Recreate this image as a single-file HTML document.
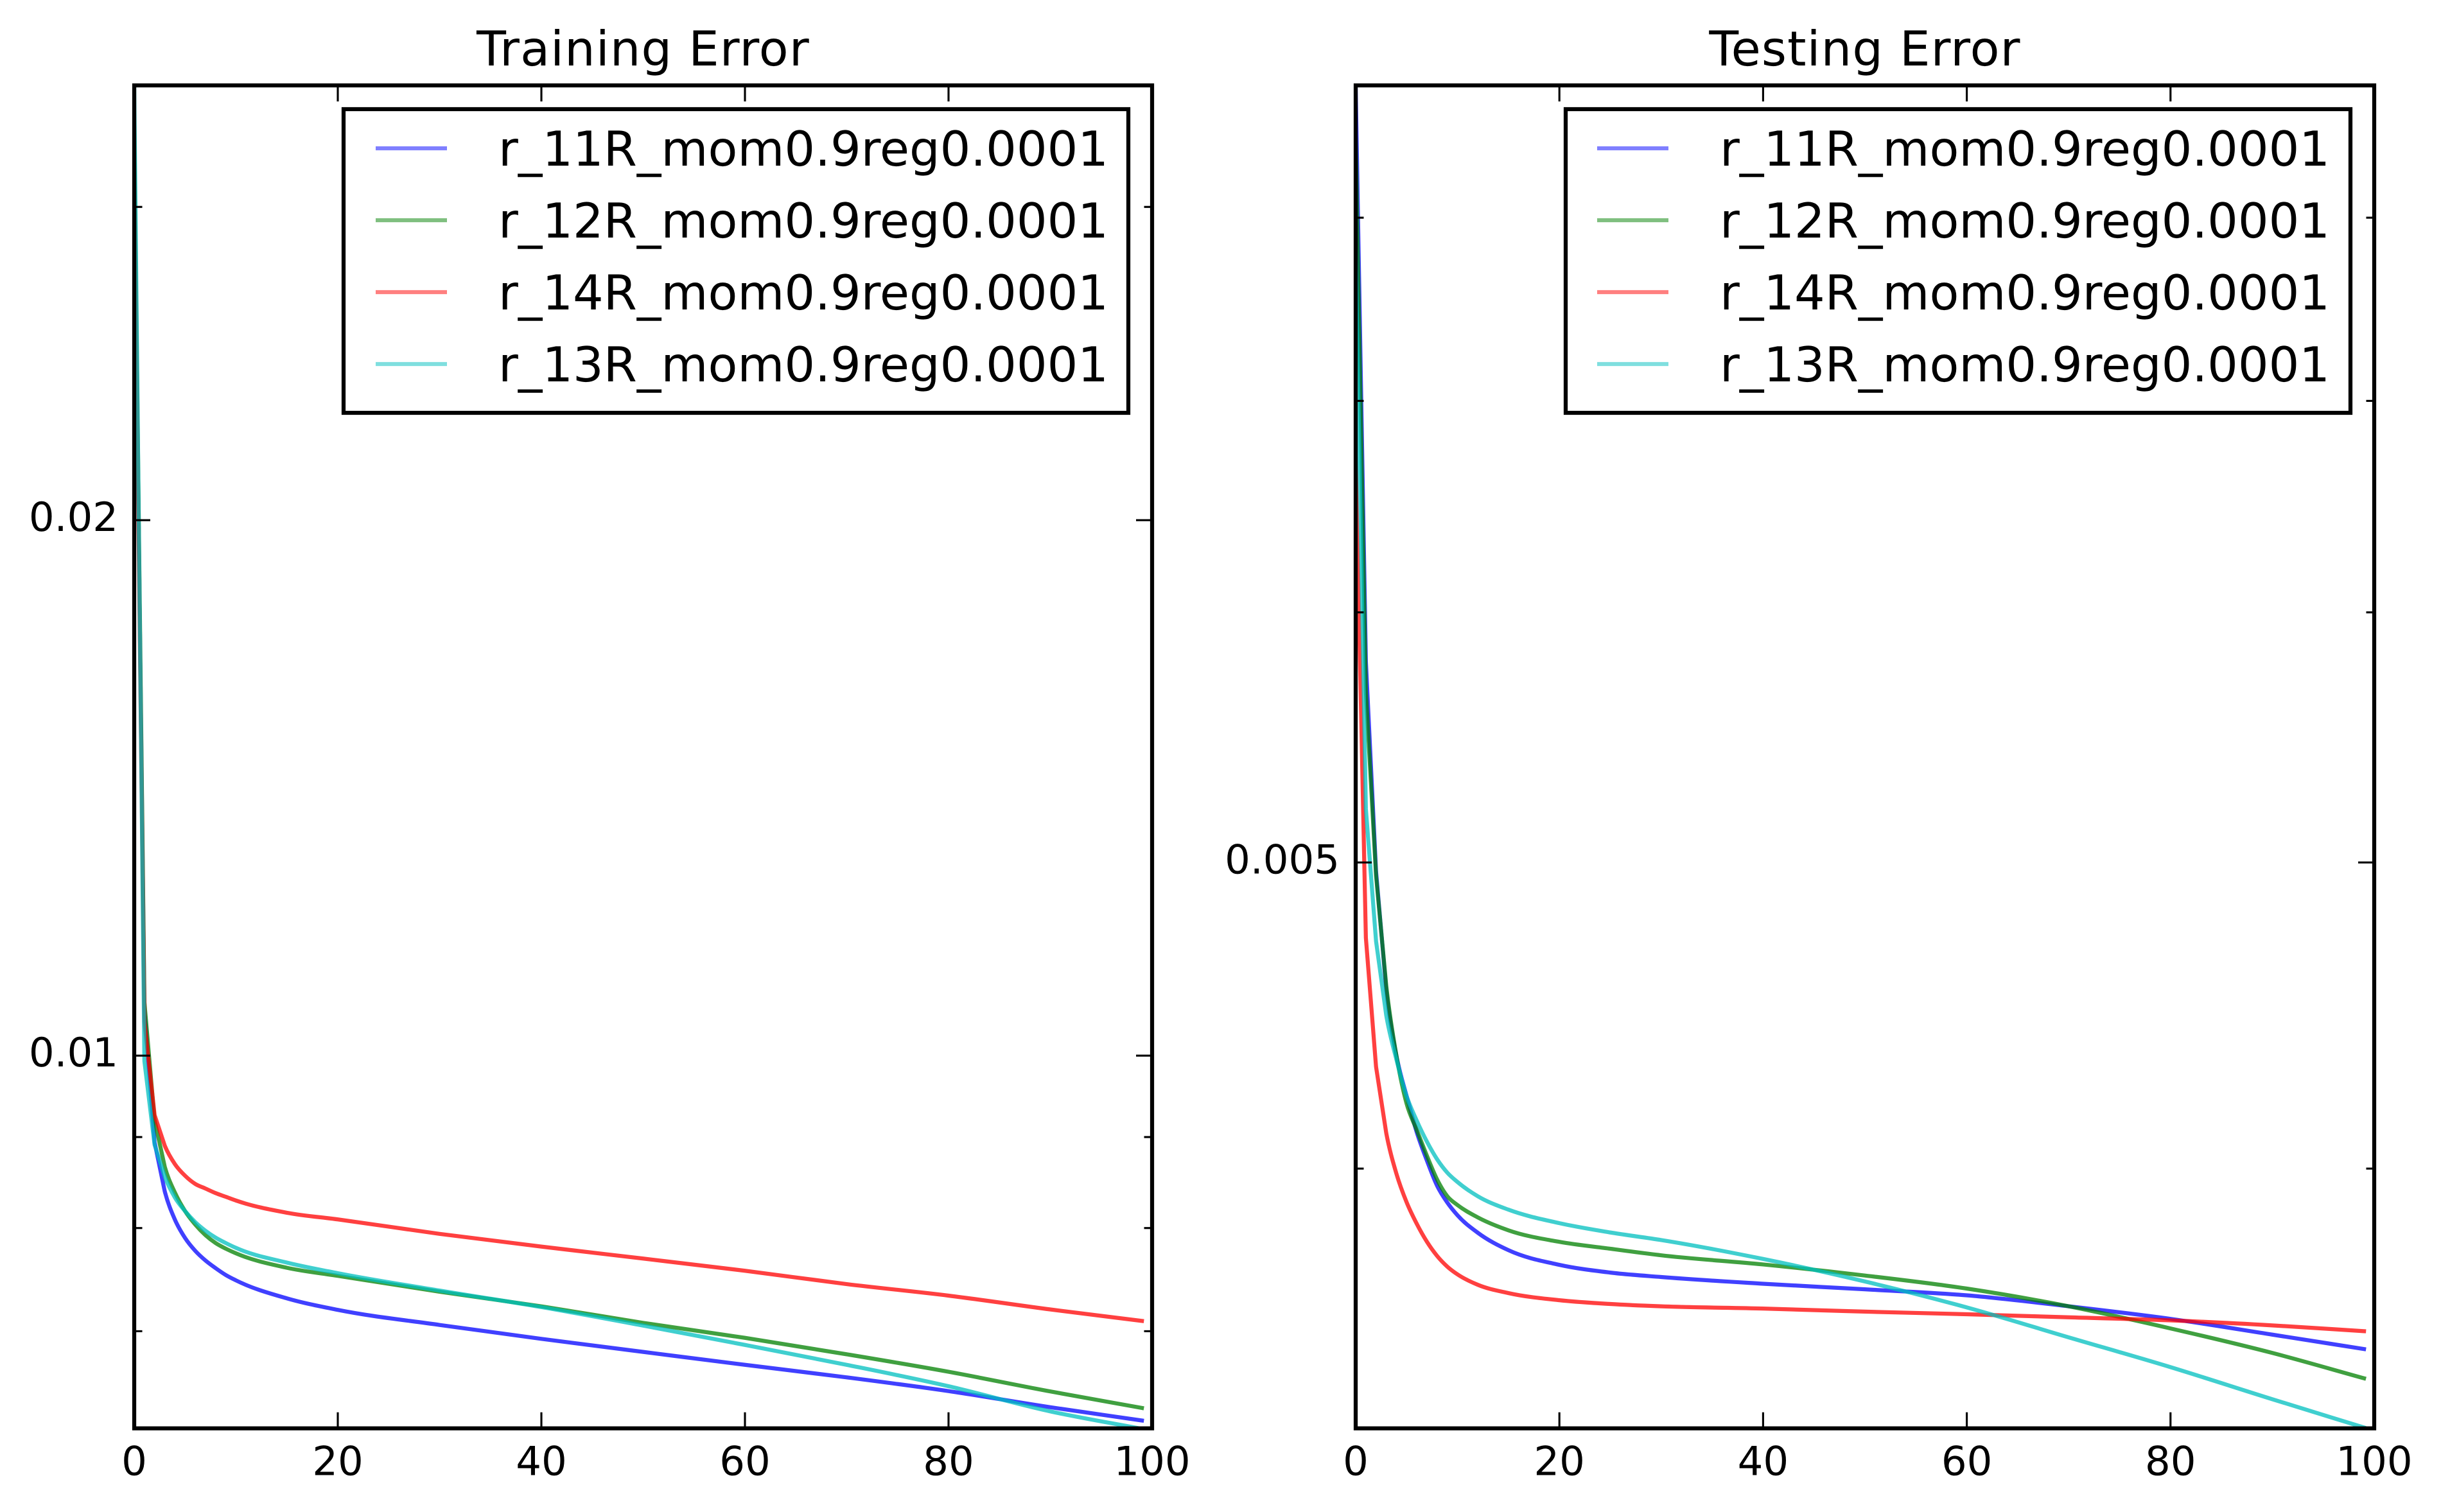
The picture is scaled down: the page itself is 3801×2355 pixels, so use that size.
<!DOCTYPE html>
<html>
<head>
<meta charset="utf-8">
<title>Training and Testing Error</title>
<style>
html,body{margin:0;padding:0;background:#fff;}
svg{display:block;}
text{font-family:"DejaVu Sans","Liberation Sans",sans-serif;fill:#000;text-rendering:geometricPrecision;}
.tick{font-size:62.5px;}
.title{font-size:75px;text-anchor:middle;letter-spacing:1.15px;}
.leg{font-size:75px;}
</style>
</head>
<body>
<svg id="figure" xmlns="http://www.w3.org/2000/svg" width="3801" height="2355" viewBox="0 0 3801 2355">
  <defs>
    <clipPath id="clip-train"><rect x="209" y="133" width="1585" height="2091.7"/></clipPath>
    <clipPath id="clip-test"><rect x="2111" y="133" width="1586" height="2091.7"/></clipPath>
  </defs>
  <rect x="0" y="0" width="3801" height="2355" fill="#fff"/>
  <g id="train-axes"></g>
  <g id="test-axes"></g>
  <text class="title" x="1001.5" y="102">Training Error</text>
  <text class="title" x="2904" y="102">Testing Error</text>

  <g>
    <rect x="535" y="170" width="1222" height="473" fill="#fff" stroke="#000" stroke-width="6.25"/>
    <g>
      <line x1="585" x2="696" y1="231" y2="231" stroke="#0000ff" stroke-opacity=".5" stroke-width="6.25"/>
      <text class="leg" x="776" y="258">r_11R_mom0.9reg0.0001</text>
    </g>
    <g>
      <line x1="585" x2="696" y1="343" y2="343" stroke="#008000" stroke-opacity=".5" stroke-width="6.25"/>
      <text class="leg" x="776" y="370">r_12R_mom0.9reg0.0001</text>
    </g>
    <g>
      <line x1="585" x2="696" y1="455" y2="455" stroke="#ff0000" stroke-opacity=".5" stroke-width="6.25"/>
      <text class="leg" x="776" y="482">r_14R_mom0.9reg0.0001</text>
    </g>
    <g>
      <line x1="585" x2="696" y1="567" y2="567" stroke="#00bfbf" stroke-opacity=".5" stroke-width="6.25"/>
      <text class="leg" x="776" y="594">r_13R_mom0.9reg0.0001</text>
    </g>
  </g>

  <g>
    <rect x="2438" y="170" width="1222" height="473" fill="#fff" stroke="#000" stroke-width="6.25"/>
    <g>
      <line x1="2487" x2="2598" y1="231" y2="231" stroke="#0000ff" stroke-opacity=".5" stroke-width="6.25"/>
      <text class="leg" x="2678" y="258">r_11R_mom0.9reg0.0001</text>
    </g>
    <g>
      <line x1="2487" x2="2598" y1="343" y2="343" stroke="#008000" stroke-opacity=".5" stroke-width="6.25"/>
      <text class="leg" x="2678" y="370">r_12R_mom0.9reg0.0001</text>
    </g>
    <g>
      <line x1="2487" x2="2598" y1="455" y2="455" stroke="#ff0000" stroke-opacity=".5" stroke-width="6.25"/>
      <text class="leg" x="2678" y="482">r_14R_mom0.9reg0.0001</text>
    </g>
    <g>
      <line x1="2487" x2="2598" y1="567" y2="567" stroke="#00bfbf" stroke-opacity=".5" stroke-width="6.25"/>
      <text class="leg" x="2678" y="594">r_13R_mom0.9reg0.0001</text>
    </g>
  </g>
</svg>
<script>
// ---- shared tick data ----
const xTickValues = [0, 20, 40, 60, 80, 100];
const xDomain = [0, 100];

// ---- training chart data ----
const trainEpochs = [0,1,2,3,4,5,6,7,8,9,10,15,20,30,40,50,60,70,80,90,99];
const trainR11 = [0.03239,0.010615,0.008939,0.008389,0.008087,0.007897,0.007767,0.007671,0.007595,0.007528,0.007476,0.007304,0.007196,0.007057,0.006931,0.006815,0.006702,0.006594,0.006478,0.006344,0.006236];
const trainR12 = [0.03321,0.010717,0.009199,0.00866,0.008375,0.008177,0.008036,0.007927,0.007846,0.007789,0.007742,0.007599,0.00752,0.007367,0.007229,0.007076,0.00694,0.006794,0.006642,0.006475,0.006338];
const trainR14 = [0.0316,0.01045,0.00926,0.0089,0.00869,0.00856,0.00847,0.00842,0.00837,0.00833,0.00829,0.00816,0.00809,0.00794,0.00781,0.00769,0.00757,0.00744,0.00733,0.0072,0.007094];
const trainR13 = [0.03511,0.009929,0.008911,0.00855,0.008322,0.008177,0.008061,0.007972,0.007901,0.007846,0.007797,0.00765,0.007546,0.007378,0.007222,0.007051,0.006877,0.006702,0.006519,0.00631,0.006169];
const trainYDomain = [0.006173, 0.03511];
const trainYMajor = [0.01, 0.02];
const trainYMajorLabels = ["0.01", "0.02"];
const trainYMinor = [0.007, 0.008, 0.009, 0.03];

// ---- testing chart data ----
const testEpochs = [0,1,2,3,4,5,6,7,8,9,10,12,15,20,25,30,40,50,60,70,80,90,99];
const testR11 = [0.008803,0.005789,0.004967,0.004558,0.004343,0.004217,0.004107,0.004023,0.00395,0.003902,0.003866,0.003817,0.003769,0.003729,0.003708,0.003696,0.003678,0.003663,0.003647,0.003618,0.003585,0.003544,0.003507];
const testR12 = [0.008476,0.005665,0.004953,0.00457,0.004343,0.004194,0.004114,0.004037,0.003968,0.00392,0.003895,0.00386,0.003824,0.003792,0.003773,0.003755,0.00373,0.0037,0.003665,0.003618,0.00356,0.003497,0.003433];
const testR14 = [0.00671,0.004733,0.004308,0.004105,0.003985,0.003903,0.003842,0.003792,0.003753,0.003724,0.003703,0.003675,0.003653,0.003634,0.003624,0.003618,0.003612,0.003604,0.003597,0.003589,0.003581,0.003568,0.003553];
const testR13 = [0.00782,0.005199,0.004721,0.004473,0.004331,0.004217,0.004142,0.004079,0.004027,0.003988,0.003961,0.00392,0.003882,0.003844,0.003818,0.003797,0.003745,0.003684,0.003615,0.003537,0.003461,0.003381,0.003312];
const testYDomain = [0.00331, 0.00881];
const testYMajor = [0.005];
const testYMajorLabels = ["0.005"];
const testYMinor = [0.004, 0.006, 0.007, 0.008];

const SVGNS = 'http://www.w3.org/2000/svg';

function makeTickLine(parent, x1, y1, x2, y2, name) {
  const el = document.createElementNS(SVGNS, 'line');
  
  
  el.setAttribute('x1', x1);
  el.setAttribute('y1', y1);
  el.setAttribute('x2', x2);
  el.setAttribute('y2', y2);
  el.setAttribute('stroke', '#000');
  el.setAttribute('stroke-width', '3.125');
  parent.appendChild(el);
}

function makeTickText(parent, x, y, anchor, label, name) {
  const el = document.createElementNS(SVGNS, 'text');
  
  
  el.setAttribute('class', 'tick');
  el.setAttribute('x', x);
  el.setAttribute('y', y);
  el.setAttribute('text-anchor', anchor);
  el.textContent = label;
  parent.appendChild(el);
}

// Steep first epochs are straight segments; the flatter remainder is a
// monotone cubic through the read values.
function seriesPath(px, py) {
  const n = px.length;
  const slopes = [];
  for (let i = 0; i < n - 1; i++) {
    slopes.push((py[i + 1] - py[i]) / (px[i + 1] - px[i]));
  }
  const tangents = [];
  for (let i = 0; i < n; i++) {
    if (i === 0) { tangents.push(slopes[0]); continue; }
    if (i === n - 1) { tangents.push(slopes[n - 2]); continue; }
    const h0 = px[i] - px[i - 1];
    const h1 = px[i + 1] - px[i];
    const s0 = slopes[i - 1];
    const s1 = slopes[i];
    const p = (s0 * h1 + s1 * h0) / (h0 + h1);
    const sign = (Math.sign(s0) + Math.sign(s1));
    tangents.push(sign * Math.min(Math.abs(s0), Math.abs(s1), 0.5 * Math.abs(p)));
  }
  let d = 'M' + px[0].toFixed(2) + ' ' + py[0].toFixed(2);
  for (let i = 0; i < n - 1; i++) {
    if (i < 3) {
      d += 'L' + px[i + 1].toFixed(2) + ' ' + py[i + 1].toFixed(2);
    } else {
      const h = px[i + 1] - px[i];
      d += 'C' + (px[i] + h / 3).toFixed(2) + ' ' + (py[i] + tangents[i] * h / 3).toFixed(2) +
           ' ' + (px[i + 1] - h / 3).toFixed(2) + ' ' + (py[i + 1] - tangents[i + 1] * h / 3).toFixed(2) +
           ' ' + px[i + 1].toFixed(2) + ' ' + py[i + 1].toFixed(2);
    }
  }
  return d;
}

function makeSeries(parent, xs, ys, xFn, yFn, color, name) {
  const el = document.createElementNS(SVGNS, 'path');
  
  
  el.setAttribute('d', seriesPath(xs.map(xFn), ys.map(yFn)));
  el.setAttribute('fill', 'none');
  el.setAttribute('stroke', color);
  el.setAttribute('stroke-opacity', '0.75');
  el.setAttribute('stroke-width', '6.25');
  el.setAttribute('stroke-linecap', 'square');
  el.setAttribute('stroke-linejoin', 'round');
  parent.appendChild(el);
}

function drawAxes(groupId, clipId, box, yDomain, epochs, seriesList, yMajor, yMajorLabels, yMinor) {
  const g = document.getElementById(groupId);
  const xFn = function (v) { return box.left + (v - xDomain[0]) / (xDomain[1] - xDomain[0]) * (box.right - box.left); };
  const logMin = Math.log10(yDomain[0]);
  const logMax = Math.log10(yDomain[1]);
  const yFn = function (v) { return box.bottom - (Math.log10(v) - logMin) / (logMax - logMin) * (box.bottom - box.top); };

  const plot = document.createElementNS(SVGNS, 'g');
  
  
  plot.setAttribute('clip-path', 'url(#' + clipId + ')');
  g.appendChild(plot);
  seriesList.forEach(function (s) {
    makeSeries(plot, epochs, s.values, xFn, yFn, s.color, s.name);
  });

  const majorLen = 25;
  const minorLen = 12.5;
  xTickValues.forEach(function (v) {
    const x = xFn(v);
    makeTickLine(g, x, box.bottom, x, box.bottom - majorLen, 'x-tick-bottom');
    makeTickLine(g, x, box.top, x, box.top + majorLen, 'x-tick-top');
    makeTickText(g, x, 2297.5, 'middle', String(v), 'x-tick-label');
  });
  yMajor.forEach(function (v, i) {
    const y = yFn(v);
    makeTickLine(g, box.left, y, box.left + majorLen, y, 'y-major-tick-left');
    makeTickLine(g, box.right, y, box.right - majorLen, y, 'y-major-tick-right');
    makeTickText(g, box.left - 25, y + 17, 'end', yMajorLabels[i], 'y-tick-label');
  });
  yMinor.forEach(function (v) {
    const y = yFn(v);
    makeTickLine(g, box.left, y, box.left + minorLen, y, 'y-minor-tick-left');
    makeTickLine(g, box.right, y, box.right - minorLen, y, 'y-minor-tick-right');
  });

  const frame = document.createElementNS(SVGNS, 'rect');
  
  
  frame.setAttribute('x', box.left);
  frame.setAttribute('y', box.top);
  frame.setAttribute('width', box.right - box.left);
  frame.setAttribute('height', box.bottom - box.top);
  frame.setAttribute('fill', 'none');
  frame.setAttribute('stroke', '#000');
  frame.setAttribute('stroke-width', '6.25');
  frame.setAttribute('stroke-linecap', 'square');
  g.appendChild(frame);
}

drawAxes('train-axes', 'clip-train', {left: 209, right: 1794, top: 133, bottom: 2224.7}, trainYDomain, trainEpochs, [
  {values: trainR11, color: '#0000ff', name: 'line-r-11r'},
  {values: trainR12, color: '#008000', name: 'line-r-12r'},
  {values: trainR14, color: '#ff0000', name: 'line-r-14r'},
  {values: trainR13, color: '#00bfbf', name: 'line-r-13r'}
], trainYMajor, trainYMajorLabels, trainYMinor);

drawAxes('test-axes', 'clip-test', {left: 2111, right: 3697, top: 133, bottom: 2224.7}, testYDomain, testEpochs, [
  {values: testR11, color: '#0000ff', name: 'line-r-11r'},
  {values: testR12, color: '#008000', name: 'line-r-12r'},
  {values: testR14, color: '#ff0000', name: 'line-r-14r'},
  {values: testR13, color: '#00bfbf', name: 'line-r-13r'}
], testYMajor, testYMajorLabels, testYMinor);
</script>
</body>
</html>
